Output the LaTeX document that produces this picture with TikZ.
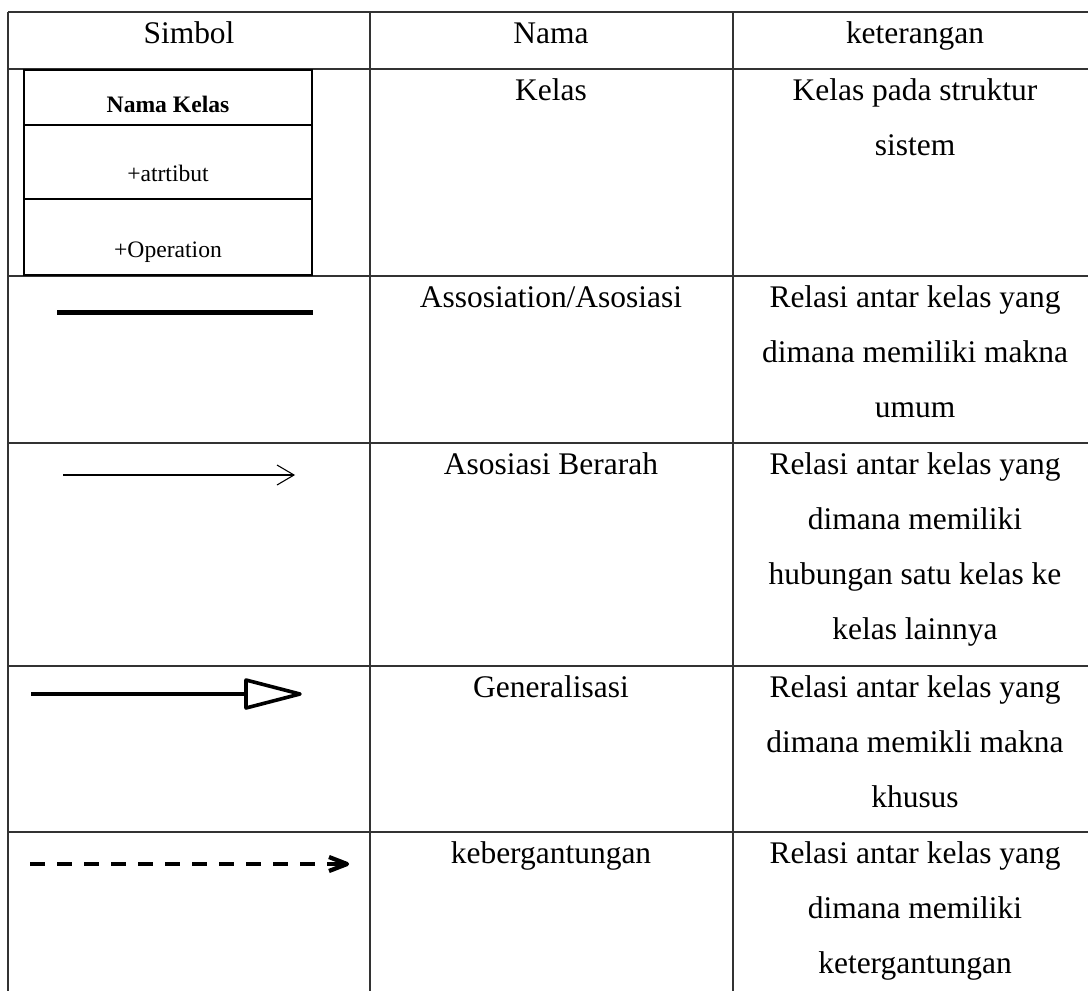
\documentclass[tikz,border=0pt]{standalone}
\usepackage{fontspec}
\setmainfont{Liberation Serif}
\begin{document}
\begin{tikzpicture}[x=0.75pt,y=-0.75pt,
  grid/.style={draw=black!80,line width=0.8pt},
  txt/.style={anchor=base,inner sep=0pt,font=\fontsize{23.6}{28}\selectfont},
  boxtxt/.style={anchor=base,inner sep=0pt,font=\fontsize{17.7}{21}\selectfont},
  classbox/.style={draw=black,line width=1pt},
  assoc/.style={draw=black,line width=3.75pt},
  directed/.style={draw=black,line width=0.8pt},
  general/.style={draw=black,line width=3pt},
  depend/.style={draw=black,line width=3.4pt,dash pattern=on 11.25pt off 9pt},
  dephead/.style={draw=black,line width=3.2pt,line join=round}]
\useasboundingbox (0,0) rectangle (1088,990);
\clip (0,0) rectangle (1088,990);
\fill[white] (0,0) rectangle (1088,990);

% table grid
\foreach \yy in {12,69,276,443,666,832} \draw[grid] (8,\yy) -- (1100,\yy);
\foreach \xx in {8,370,733} \draw[grid] (\xx,12) -- (\xx,1000);

% header
\node[txt] (hSimbol) at (189,43) {Simbol};
\node[txt] (hNama) at (551,43) {Nama};
\node[txt] (hKet) at (915,43) {keterangan};

% row 1: class
\draw[classbox] (24,70) rectangle (312,275);
\draw[classbox] (24,125) -- (312,125);
\draw[classbox] (24,199) -- (312,199);
\node[boxtxt,font=\fontsize{17.7}{21}\selectfont\bfseries] (cName) at (168,112) {Nama Kelas};
\node[boxtxt] (cAttr) at (168,181) {+atrtibut};
\node[boxtxt] (cOp) at (168,257) {+Operation};
\node[txt] (n1) at (551,100) {Kelas};
\node[txt] (k1a) at (915,100) {Kelas pada struktur};
\node[txt] (k1b) at (915,155) {sistem};

% row 2: association
\coordinate (a1) at (57,312);
\coordinate (a2) at (313,312);
\draw[assoc] (a1) -- (a2);
\node[txt] (n2) at (551,307) {Assosiation/Asosiasi};
\node[txt] (k2a) at (915,307) {Relasi antar kelas yang};
\node[txt] (k2b) at (915,362) {dimana memiliki makna};
\node[txt] (k2c) at (915,417) {umum};

% row 3: directed association
\coordinate (d1) at (63,475);
\coordinate (d2) at (294,475);
\draw[directed] (d1) -- (d2);
\draw[directed] (277,465) -- (d2) -- (277,485);
\node[txt] (n3) at (551,474) {Asosiasi Berarah};
\node[txt] (k3a) at (915,474) {Relasi antar kelas yang};
\node[txt] (k3b) at (915,529) {dimana memiliki};
\node[txt] (k3c) at (915,584) {hubungan satu kelas ke};
\node[txt] (k3d) at (915,639) {kelas lainnya};

% row 4: generalization
\coordinate (g1) at (31,694);
\coordinate (g2) at (246,694);
\draw[general] (g1) -- (g2);
\draw[general,line width=2.7pt,line join=round] (246,680) -- (300,694) -- (246,708) -- cycle;
\node[txt] (n4) at (551,697) {Generalisasi};
\node[txt] (k4a) at (915,697) {Relasi antar kelas yang};
\node[txt] (k4b) at (915,752) {dimana memikli makna};
\node[txt] (k4c) at (915,807) {khusus};

% row 5: dependency
\coordinate (p1) at (30,864);
\coordinate (p2) at (345,864);
\draw[depend] (p1) -- (p2);
\draw[dephead] (329,857) -- (347,864) -- (329,871);
\node[txt] (n5) at (551,863) {kebergantungan};
\node[txt] (k5a) at (915,863) {Relasi antar kelas yang};
\node[txt] (k5b) at (915,918) {dimana memiliki};
\node[txt] (k5c) at (915,973) {ketergantungan};
\end{tikzpicture}
\end{document}
